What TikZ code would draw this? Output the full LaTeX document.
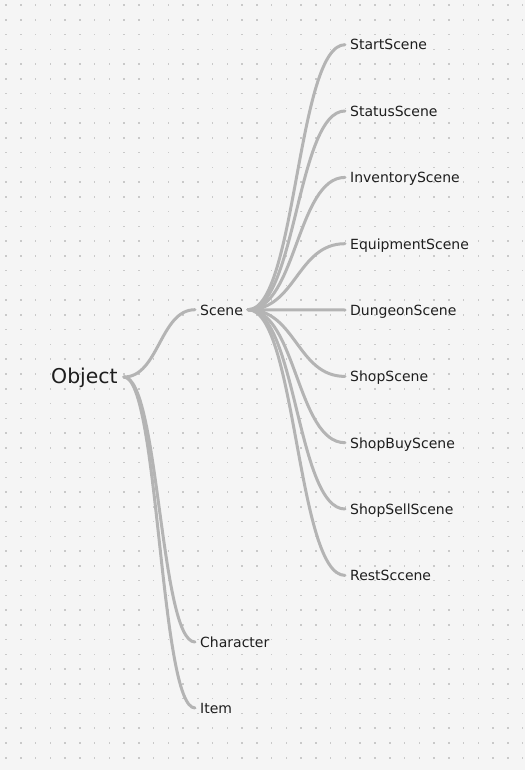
\documentclass[tikz,border=0pt]{standalone}
\usepackage{fontspec}
\setmainfont{DejaVu Sans}
\definecolor{bgpaper}{HTML}{F5F5F5}
\definecolor{griddot}{HTML}{C9C9C9}
\definecolor{linkgray}{HTML}{B4B4B4}
\definecolor{ink}{HTML}{1E1E1E}
\tikzstyle{leaf}=[anchor=base west,inner xsep=5pt,inner ysep=0pt,text height=10.6pt,text depth=0pt,text=ink,font=\fontsize{14}{17}\selectfont]
\tikzstyle{rootnode}=[anchor=base west,inner xsep=6pt,inner ysep=0pt,text height=12pt,text depth=0pt,text=ink,font=\fontsize{20.4}{24}\selectfont]
\tikzstyle{link}=[draw=linkgray,line width=3pt,line cap=round]

\begin{document}
\begin{tikzpicture}[x=1pt,y=-1pt]
    \fill[bgpaper] (0,0) rectangle (525,770);
    \useasboundingbox (0,0) rectangle (525,770);
    % dotted grid
    \foreach \i in {0,...,35}
        \foreach \j in {0,...,51}
            \fill[griddot] (6+14.76*\i-0.75,5+14.76*\j-0.75) rectangle +(1.5,1.5);
    \node[rootnode] (Object) at (45,383) {Object};
    \node[leaf] (Scene) at (195,315) {Scene};
    \node[leaf] (Character) at (195,647.3) {Character};
    \node[leaf] (Item) at (195,713.3) {Item};
    \node[leaf] (StartScene) at (345,50) {StartScene};
    \node[leaf] (StatusScene) at (345,116.3) {StatusScene};
    \node[leaf] (InventoryScene) at (345,182.7) {InventoryScene};
    \node[leaf] (EquipmentScene) at (345,249) {EquipmentScene};
    \node[leaf] (DungeonScene) at (345,315.3) {DungeonScene};
    \node[leaf] (ShopScene) at (345,381.7) {ShopScene};
    \node[leaf] (ShopBuyScene) at (345,448) {ShopBuyScene};
    \node[leaf] (ShopSellScene) at (345,514.3) {ShopSellScene};
    \node[leaf] (RestSccene) at (345,580.7) {RestSccene};
    % Object branches
    \draw[link] (Object.east) .. controls +(35,0) and +(-35,0) .. (Scene.west);
    \draw[link] (Object.east) .. controls +(35,0) and +(-35,0) .. (Character.west);
    \draw[link] (Object.east) .. controls +(35,0) and +(-35,0) .. (Item.west);
    % Scene branches
    \draw[link] (Scene.east) .. controls +(48,0) and +(-48,0) .. (StartScene.west);
    \draw[link] (Scene.east) .. controls +(48,0) and +(-48,0) .. (StatusScene.west);
    \draw[link] (Scene.east) .. controls +(48,0) and +(-48,0) .. (InventoryScene.west);
    \draw[link] (Scene.east) .. controls +(48,0) and +(-48,0) .. (EquipmentScene.west);
    \draw[link] (Scene.east) .. controls +(48,0) and +(-48,0) .. (DungeonScene.west);
    \draw[link] (Scene.east) .. controls +(48,0) and +(-48,0) .. (ShopScene.west);
    \draw[link] (Scene.east) .. controls +(48,0) and +(-48,0) .. (ShopBuyScene.west);
    \draw[link] (Scene.east) .. controls +(48,0) and +(-48,0) .. (ShopSellScene.west);
    \draw[link] (Scene.east) .. controls +(48,0) and +(-48,0) .. (RestSccene.west);
\end{tikzpicture}
\end{document}
